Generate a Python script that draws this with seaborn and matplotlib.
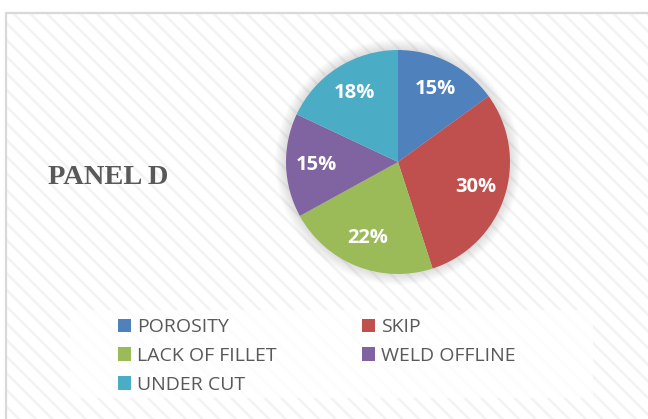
import matplotlib
matplotlib.use('Agg')
import matplotlib.pyplot as plt
from matplotlib.patches import Rectangle, Circle
import seaborn as sns

# data
defects = ['POROSITY', 'SKIP', 'LACK OF FILLET', 'WELD OFFLINE', 'UNDER CUT']
shares = [15, 30, 22, 15, 18]
office_colors = ['#4F81BD', '#C0504D', '#9BBB59', '#8064A2', '#4BACC6']
panel_title = 'PANEL D'

sns.set_style('white')
palette = sns.color_palette(office_colors)
plt.rcParams['font.family'] = ['Open Sans', 'DejaVu Sans']
plt.rcParams['hatch.linewidth'] = 1.8

W, H = 648, 419
fig = plt.figure(figsize=(W / 100, H / 100), dpi=100)
fig.patch.set_facecolor('white')

# striped chart-area background with a grey frame
bg = Rectangle((6 / W, -0.01), 1.0, 1 - 13 / H + 0.01, transform=fig.transFigure,
               facecolor='white', edgecolor='#f3f3f3', hatch='\\\\', linewidth=0, zorder=-3)
fig.add_artist(bg)
frame = Rectangle((6 / W, -0.01), 1.0, 1 - 13 / H + 0.01, transform=fig.transFigure,
                  facecolor='none', edgecolor='#d9d9d9', linewidth=1.6, zorder=-2)
fig.add_artist(frame)

# legend backdrop
lbox = Rectangle((70 / W, 1 - 398 / H), 523 / W, 88 / H, transform=fig.transFigure,
                 facecolor='white', edgecolor='none', alpha=0.8, zorder=-1)
fig.add_artist(lbox)

# pie
cx, cy, r = 398, 162, 112
ax = fig.add_axes([(cx - r) / W, (H - cy - r) / H, 2 * r / W, 2 * r / H])
ax.set_facecolor('none')
ax.axis('off')

# soft shadow around the pie
for k in range(8):
    ax.add_patch(Circle((0, 0.0), 1.0 + 0.012 * (k + 1), facecolor='#808080',
                        alpha=0.03, edgecolor='none', zorder=0, clip_on=False))

wedges, texts, autotexts = ax.pie(
    shares, colors=palette, startangle=90, counterclock=False,
    autopct='%1.0f%%', pctdistance=0.73, radius=1.0,
    wedgeprops=dict(linewidth=0, zorder=1),
    textprops=dict(color='white', fontweight='bold', fontsize=14.5))
ax.set_xlim(-1, 1)
ax.set_ylim(-1, 1)

# title on the left
fig.text(48 / W, 1 - 177 / H, panel_title, ha='left', va='center',
         fontsize=20.5, fontweight='bold', color='#595959',
         family=['Liberation Serif', 'DejaVu Serif'])

# legend, row-major order like the original
order = [0, 2, 4, 1, 3]
leg = fig.legend([wedges[i] for i in order], [defects[i] for i in order],
                 ncol=2, loc='upper left', bbox_to_anchor=(118 / W, 1 - 318 / H),
                 frameon=False, fontsize=14, handlelength=0.67, handleheight=0.67,
                 handletextpad=0.3, columnspacing=4.4, labelspacing=0.56,
                 borderpad=0, borderaxespad=0)
for t in leg.get_texts():
    t.set_color('#595959')
for h in leg.legend_handles:
    h.set_edgecolor('none')

fig.savefig('out.png', dpi=100)
